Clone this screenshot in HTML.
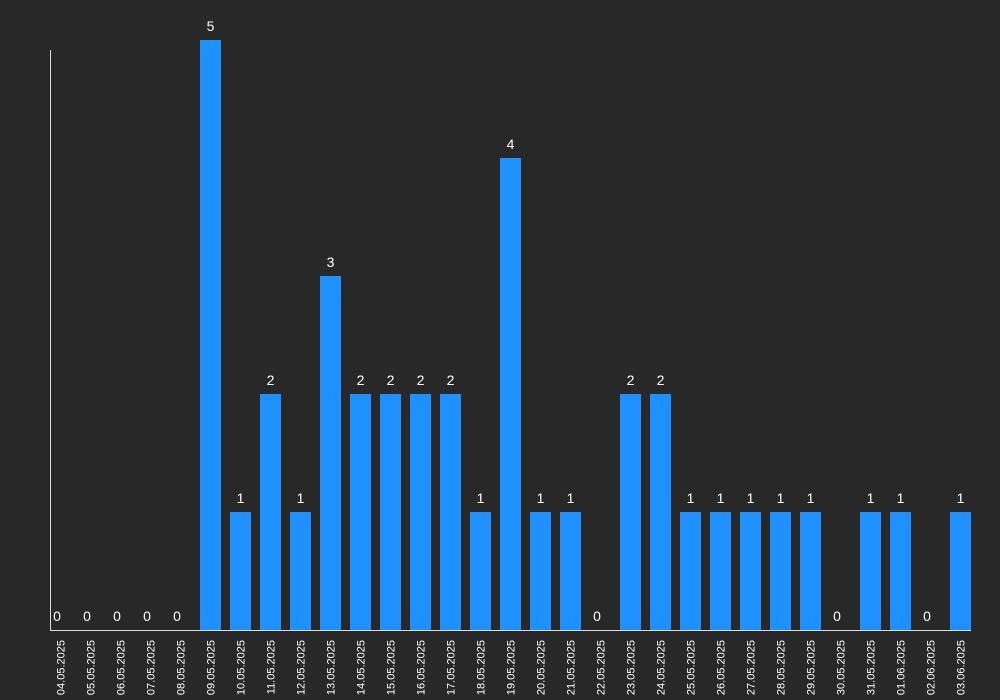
<!DOCTYPE html>
<html><head><meta charset="utf-8"><style>
html,body{margin:0;padding:0;background:#282828;}
svg{display:block;font-family:"Liberation Sans",sans-serif;}
</style></head><body>
<svg id="chart" width="1000" height="700">
<rect width="1000" height="700" fill="#282828"/>
<g id="bars"></g>
<line x1="50.5" y1="50" x2="50.5" y2="630" stroke="#ddd" stroke-width="1"/>
<line x1="50" y1="630.5" x2="971" y2="630.5" stroke="#ddd" stroke-width="1"/>
</svg>
<script>
const categories=["04.05.2025","05.05.2025","06.05.2025","07.05.2025","08.05.2025","09.05.2025","10.05.2025","11.05.2025","12.05.2025","13.05.2025","14.05.2025","15.05.2025","16.05.2025","17.05.2025","18.05.2025","19.05.2025","20.05.2025","21.05.2025","22.05.2025","23.05.2025","24.05.2025","25.05.2025","26.05.2025","27.05.2025","28.05.2025","29.05.2025","30.05.2025","31.05.2025","01.06.2025","02.06.2025","03.06.2025"];
const values=[0,0,0,0,0,5,1,2,1,3,2,2,2,2,1,4,1,1,0,2,2,1,1,1,1,1,0,1,1,0,1];
const yMax=5;
const NS="http://www.w3.org/2000/svg";
const gBars=document.getElementById('bars');
const xStart=50,stepW=30,barW=21,yBase=630,yTop=40;
function xs(i){return xStart+i*stepW;}
function ys(v){return yBase-(yBase-yTop)*v/yMax;}
categories.forEach((c,i)=>{
  const v=values[i];
  const x=xs(i),y=ys(v);
  if(v>0){
    const r=document.createElementNS(NS,'rect');
    r.setAttribute('x',x);r.setAttribute('y',y);r.setAttribute('width',barW);r.setAttribute('height',yBase-y);
    r.setAttribute('fill','#1e90ff');
    
    
    gBars.appendChild(r);
  }
  const t=document.createElementNS(NS,'text');
  t.setAttribute('x',v>0?x+barW/2:x+7);t.setAttribute('y',y-9);
  t.setAttribute('text-anchor','middle');t.setAttribute('fill','#fff');t.setAttribute('font-size','14');
  t.textContent=v;
  
  
  gBars.appendChild(t);
  const l=document.createElementNS(NS,'text');
  const lx=x+barW/2+4,ly=640;
  l.setAttribute('x',lx);l.setAttribute('y',ly);
  l.setAttribute('transform','rotate(-90 '+lx+' '+ly+')');
  l.setAttribute('text-anchor','end');l.setAttribute('fill','#fff');l.setAttribute('font-size','11');
  l.textContent=c;
  
  
  gBars.appendChild(l);
});
</script>
</body></html>
